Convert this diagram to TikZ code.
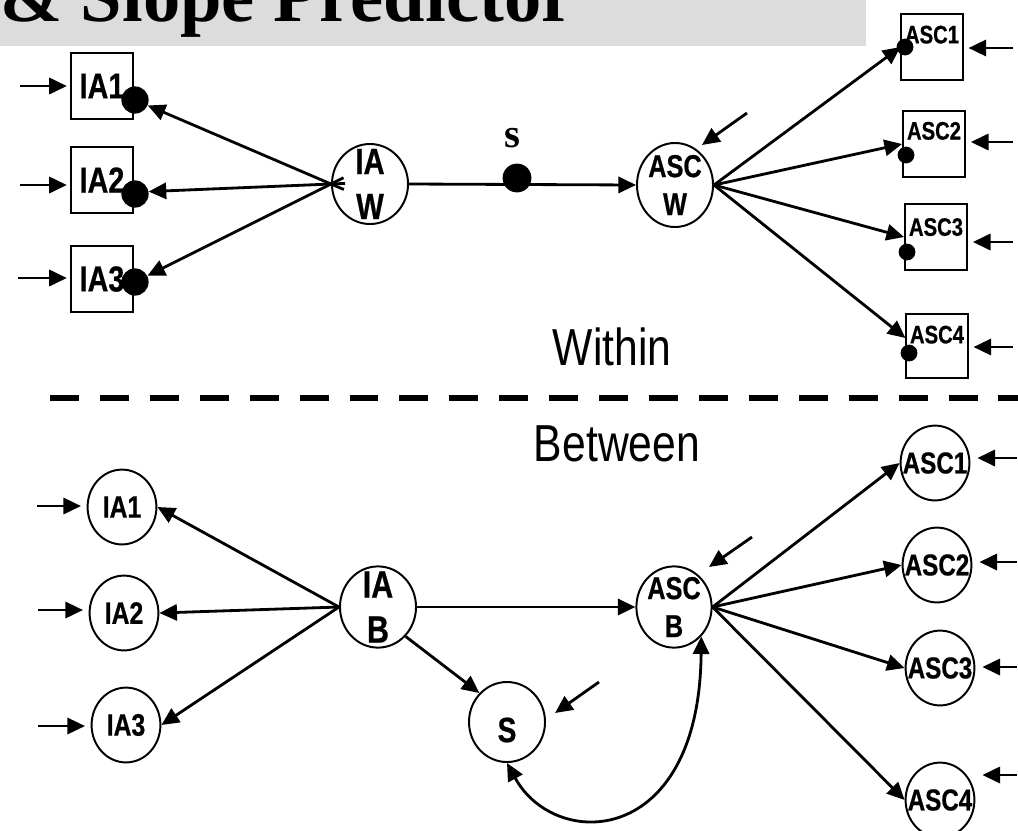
\documentclass[tikz,border=0pt]{standalone}
\usepackage{fontspec}
\setmainfont{Liberation Sans}
\newfontfamily\narrowsans[FakeStretch=0.82]{Liberation Sans}
\newfontfamily\narrowheavy[FakeStretch=0.8, FakeBold=0.6]{Liberation Sans Bold}
\newfontfamily\titleserif{Liberation Serif}
\usetikzlibrary{calc, arrows.meta, positioning, shapes.geometric}
\definecolor{bandgray}{RGB}{220,220,220}
\newcommand{\labfont}[2]{\narrowheavy\fontsize{#1}{#2}\selectfont}

\begin{document}
\begin{tikzpicture}[x=0.025cm, y=-0.025cm,
    arr/.style={line width=2pt, -{Triangle[length=12.5pt,width=11.5pt]}},
    twoarr/.style={line width=2pt, {Triangle[length=12.5pt,width=11.5pt]}-{Triangle[length=12.5pt,width=11.5pt]}},
    abox/.style={draw, line width=1.4pt, minimum width=1.57cm, minimum height=1.64cm, inner sep=0pt},
    ell/.style={draw, ellipse, line width=1.4pt, inner sep=0pt, minimum width=1.9cm, minimum height=2cm},
    sell/.style={ell, minimum width=1.72cm, minimum height=1.87cm},
    bigdot/.style={circle, fill, inner sep=0pt, minimum size=0.68cm},
    smalldot/.style={circle, fill, inner sep=0pt, minimum size=0.42cm}]
            \useasboundingbox (0,0) rectangle (1018,830);
            % title band
            \fill[bandgray] (0,0) rectangle (866,46);
            \node[anchor=base west, inner sep=0pt, font=\titleserif\bfseries\fontsize{53pt}{53pt}\selectfont] (title) at (0,21) {\& Slope Predictor};
            % within
            \node[abox, font=\labfont{25.6pt}{26pt}] (ia1) at (102,86) {IA1};
            \node[abox, font=\labfont{25.6pt}{26pt}] (ia2) at (102,180) {IA2};
            \node[abox, font=\labfont{25.6pt}{26pt}] (ia3) at (102,279) {IA3};
            \node[bigdot] (d1) at (135,100) {};
            \node[bigdot] (d2) at (135,194) {};
            \node[bigdot] (d3) at (135,282) {};
            \coordinate (in1) at (20,86);
            \coordinate (in2) at (20,185);
            \coordinate (in3) at (18,278);
            \draw[arr, shorten >=2pt] (in1) -- (in1 -| ia1.west);
            \draw[arr, shorten >=2pt] (in2) -- (in2 -| ia2.west);
            \draw[arr, shorten >=2pt] (in3) -- (in3 -| ia3.west);
            \node[ell, label={[font=\labfont{26pt}{32pt}, align=center]center:IA\\W}] (iaw) at (370,184) {};
            \draw[arr] ($(iaw.west)!-0.35cm!(d1)$) -- (d1);
            \draw[arr] ($(iaw.west)!-0.35cm!(d2.10)$) -- (d2.10);
            \draw[arr] ($(iaw.west)!-0.35cm!(d3)$) -- (d3);
            \node[ell, minimum height=2.1cm, label={[font=\labfont{22.5pt}{27pt}, align=center]center:ASC\\W}] (ascw) at (675,185) {};
            \draw[arr] (iaw.east) -- (ascw.west);
            \node[bigdot, minimum size=0.72cm] (sdot) at (517,178) {};
            \node[inner sep=0pt, font=\titleserif\bfseries\fontsize{29pt}{29pt}\selectfont] (slab) at (512,138) {s};
            \coordinate (pw1) at (747,113);
            \coordinate (pw2) at (702,145);
            \draw[arr] (pw1) -- (pw2);
            \node[abox, minimum width=1.53cm, minimum height=1.63cm] (asc1) at (932,47) {};
            \node[abox, minimum width=1.55cm, minimum height=1.63cm] (asc2) at (934,144) {};
            \node[abox, minimum width=1.55cm, minimum height=1.63cm] (asc3) at (936,237) {};
            \node[abox, minimum width=1.53cm, minimum height=1.58cm] (asc4) at (937,346) {};
            \node[inner sep=0pt, font=\labfont{18pt}{18pt}, below=0.3cm of asc1.north] (asc1l) {ASC1};
            \node[inner sep=0pt, font=\labfont{18pt}{18pt}, below=0.28cm of asc2.north] (asc2l) {ASC2};
            \node[inner sep=0pt, font=\labfont{18pt}{18pt}, below=0.36cm of asc3.north] (asc3l) {ASC3};
            \node[inner sep=0pt, font=\labfont{18pt}{18pt}, below=0.3cm of asc4.north] (asc4l) {ASC4};
            \node[smalldot] (e1) at (905,47) {};
            \node[smalldot] (e2) at (906,155) {};
            \node[smalldot] (e3) at (907,252) {};
            \node[smalldot] (e4) at (909,353) {};
            \draw[arr] (ascw.east) -- (asc1.west);
            \draw[arr] (ascw.east) -- (asc2.west);
            \draw[arr] (ascw.east) -- (asc3.west);
            \draw[arr] (ascw.east) -- ([yshift=0.2cm]asc4.west);
            \coordinate (r1) at (1013,48);
            \coordinate (r2) at (1013,142);
            \coordinate (r3) at (1013,242);
            \coordinate (r4) at (1013,347);
            \draw[arr, shorten >=3.5pt] (r1) -- (r1 -| asc1.east);
            \draw[arr, shorten >=3.5pt] (r2) -- (r2 -| asc2.east);
            \draw[arr, shorten >=3.5pt] (r3) -- (r3 -| asc3.east);
            \draw[arr, shorten >=3.5pt] (r4) -- (r4 -| asc4.east);
            \node[inner sep=0pt, font=\narrowsans\fontsize{37pt}{37pt}\selectfont] (within) at (612,347) {Within};
            % separator
            \coordinate (dl1) at (50,398);
            \coordinate (dl2) at (1018,398);
            \draw[line width=4.3pt, dash pattern=on 20.6pt off 14.9pt] (dl1) -- (dl2);
            % between
            \node[inner sep=0pt, font=\narrowsans\fontsize{37pt}{37pt}\selectfont] (between) at (617,444) {Between};
            \node[sell, label={[font=\labfont{22pt}{22pt}]center:IA1}] (ia1b) at (122,507) {};
            \node[sell, label={[font=\labfont{22pt}{22pt}]center:IA2}] (ia2b) at (124,613) {};
            \node[sell, label={[font=\labfont{22pt}{22pt}]center:IA3}] (ia3b) at (126,725) {};
            \coordinate (inb1) at (37,506);
            \coordinate (inb2) at (38,610);
            \coordinate (inb3) at (38,726);
            \draw[arr, shorten >=4pt] (inb1) -- (inb1 -| ia1b.west);
            \draw[arr, shorten >=4pt] (inb2) -- (inb2 -| ia2b.west);
            \draw[arr, shorten >=4pt] (inb3) -- (inb3 -| ia3b.west);
            \node[ell, minimum height=2.03cm, label={[font=\labfont{27pt}{32pt}, align=center]center:IA\\B}] (iab) at (378,607) {};
            \draw[arr] (iab.west) -- (ia1b.east);
            \draw[arr] (iab.west) -- (ia2b.east);
            \draw[arr] (iab.west) -- (ia3b.east);
            \node[ell, minimum width=1.88cm, minimum height=2.03cm, label={[font=\labfont{22.5pt}{27pt}, align=center]center:ASC\\B}] (ascb) at (674,607) {};
            \draw[arr] (iab.east) -- (ascb.west);
            \node[ell, label={[font=\labfont{25pt}{25pt}, yshift=-0.2cm]center:S}] (sb) at (507,722) {};
            \draw[arr] (iab.south east) -- (sb.north west);
            \draw[twoarr] (sb.south) .. controls +(48,88) and +(-2,212) .. (ascb.south east);
            \coordinate (pb1) at (752,537);
            \coordinate (pb2) at (709,567);
            \draw[arr] (pb1) -- (pb2);
            \coordinate (ps1) at (599,682);
            \coordinate (ps2) at (555,713);
            \draw[arr] (ps1) -- (ps2);
            \node[sell, label={[font=\labfont{21.5pt}{21pt}]center:ASC1}] (asc1b) at (935,463) {};
            \node[sell, label={[font=\labfont{21.5pt}{21pt}]center:ASC2}] (asc2b) at (937,565) {};
            \node[sell, label={[font=\labfont{21.5pt}{21pt}]center:ASC3}] (asc3b) at (940,668) {};
            \node[sell, label={[font=\labfont{21.5pt}{21pt}]center:ASC4}] (asc4b) at (940,800) {};
            \draw[arr] (ascb.east) -- (asc1b.west);
            \draw[arr] (ascb.east) -- (asc2b.west);
            \draw[arr] (ascb.east) -- (asc3b.west);
            \draw[arr] (ascb.east) -- (asc4b.west);
            \coordinate (rb1) at (1017,458);
            \coordinate (rb2) at (1017,562);
            \coordinate (rb3) at (1017,667);
            \coordinate (rb4) at (1017,775);
            \draw[arr, shorten >=5pt] (rb1) -- (rb1 -| asc1b.east);
            \draw[arr, shorten >=5pt] (rb2) -- (rb2 -| asc2b.east);
            \draw[arr, shorten >=5pt] (rb3) -- (rb3 -| asc3b.east);
            \draw[arr, shorten >=5pt] (rb4) -- (rb4 -| asc4b.east);
        \end{tikzpicture}
\end{document}
